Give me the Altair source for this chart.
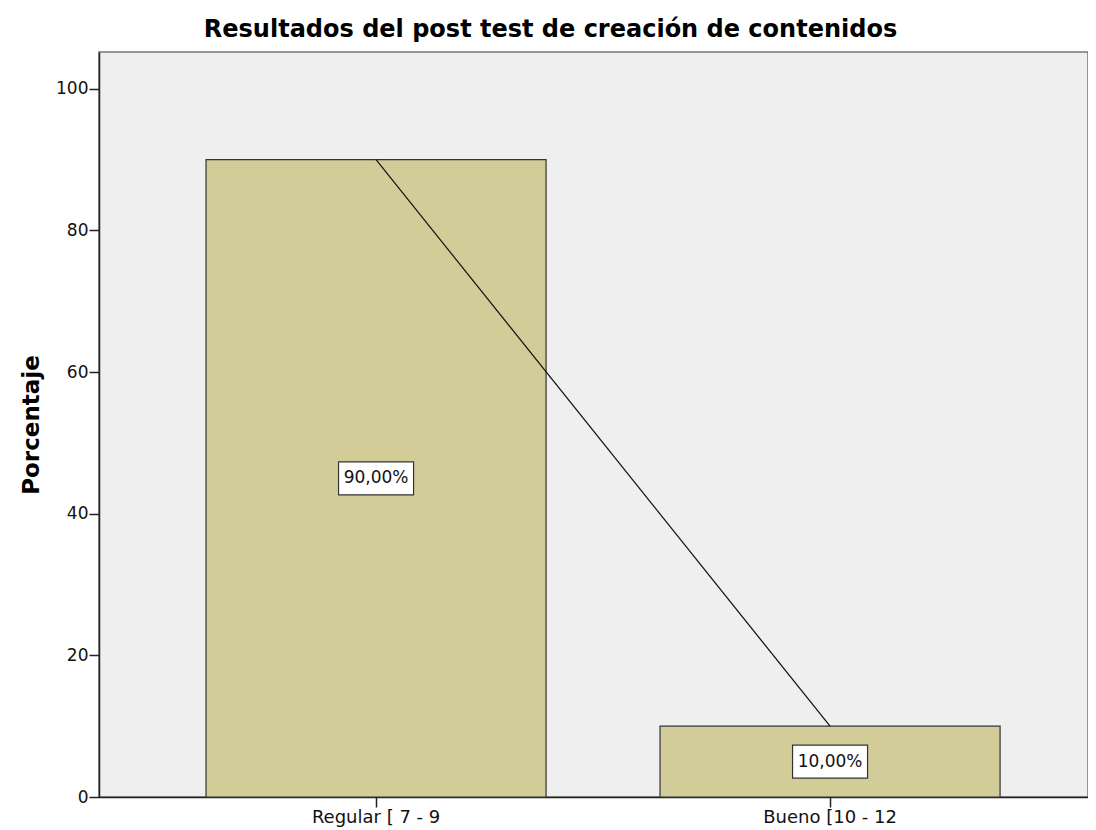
import altair as alt
import pandas as pd

categories = ["Regular [ 7 - 9", "Bueno [10 - 12"]
percent = [90.0, 10.0]
labels = ["90,00%", "10,00%"]

df = pd.DataFrame({"cat": categories, "pct": percent, "lab": labels})

FONT = "DejaVu Sans"

x_enc = alt.X(
    "cat:N",
    sort=categories,
    title=None,
    scale=alt.Scale(paddingInner=0.251, paddingOuter=0.2147, align=0.549),
    axis=alt.Axis(labelAngle=0, labelFontSize=18, labelFont=FONT, labelColor="#111",
                  tickSize=10, tickColor="#222", tickWidth=1.5, domainColor="#222",
                  domainWidth=1.5, labelPadding=1, labelBaseline="top"),
)
y_scale = alt.Scale(domain=[0, 105.2], nice=False, zero=True)
y_axis = alt.Axis(values=[0, 20, 40, 60, 80, 100], grid=False, labelFontSize=17,
                  labelFont=FONT, labelColor="#111", tickSize=10, tickColor="#222",
                  tickWidth=1.5, domainColor="#222", domainWidth=1.5, labelPadding=1,
                  title="Porcentaje", titleFont=FONT, titleFontSize=23,
                  titleFontWeight="bold", titleColor="#000", titlePadding=12)

base = alt.Chart(df)

bars = base.mark_bar(color="#D2CD98", stroke="#333", strokeWidth=1.2).encode(
    x=x_enc,
    y=alt.Y("pct:Q", scale=y_scale, axis=y_axis),
)

line = base.mark_line(color="#111", strokeWidth=1.2).encode(
    x=alt.X("cat:N", sort=categories),
    y=alt.Y("pct:Q"),
)

boxes = base.transform_calculate(mid="datum.pct / 2").mark_point(
    shape="M-1,-0.44H1V0.44H-1Z", size=5625, filled=True, fill="white",
    stroke="#333", strokeWidth=1.2, opacity=1,
).encode(
    x=alt.X("cat:N", sort=categories),
    y=alt.Y("mid:Q"),
)

texts = base.transform_calculate(mid="datum.pct / 2").mark_text(
    font=FONT, fontSize=17, color="#111", baseline="middle", align="center",
).encode(
    x=alt.X("cat:N", sort=categories),
    y=alt.Y("mid:Q"),
    text="lab:N",
)

chart = alt.layer(bars, line, boxes, texts).properties(
    width=989,
    height=745,
    title=alt.TitleParams("Resultados del post test de creación de contenidos",
                          font=FONT, fontSize=24, fontWeight="bold", color="#000",
                          anchor="middle", offset=10, dx=-43),
    autosize=alt.AutoSizeParams(type="none"),
    padding={"left": 91, "top": 44, "right": 0, "bottom": 30},
).configure(background="white").configure_view(fill="#EFEFEF", stroke="#777", strokeWidth=1.5)

chart.save("out.html", embed_options={"renderer": "svg", "actions": False})
